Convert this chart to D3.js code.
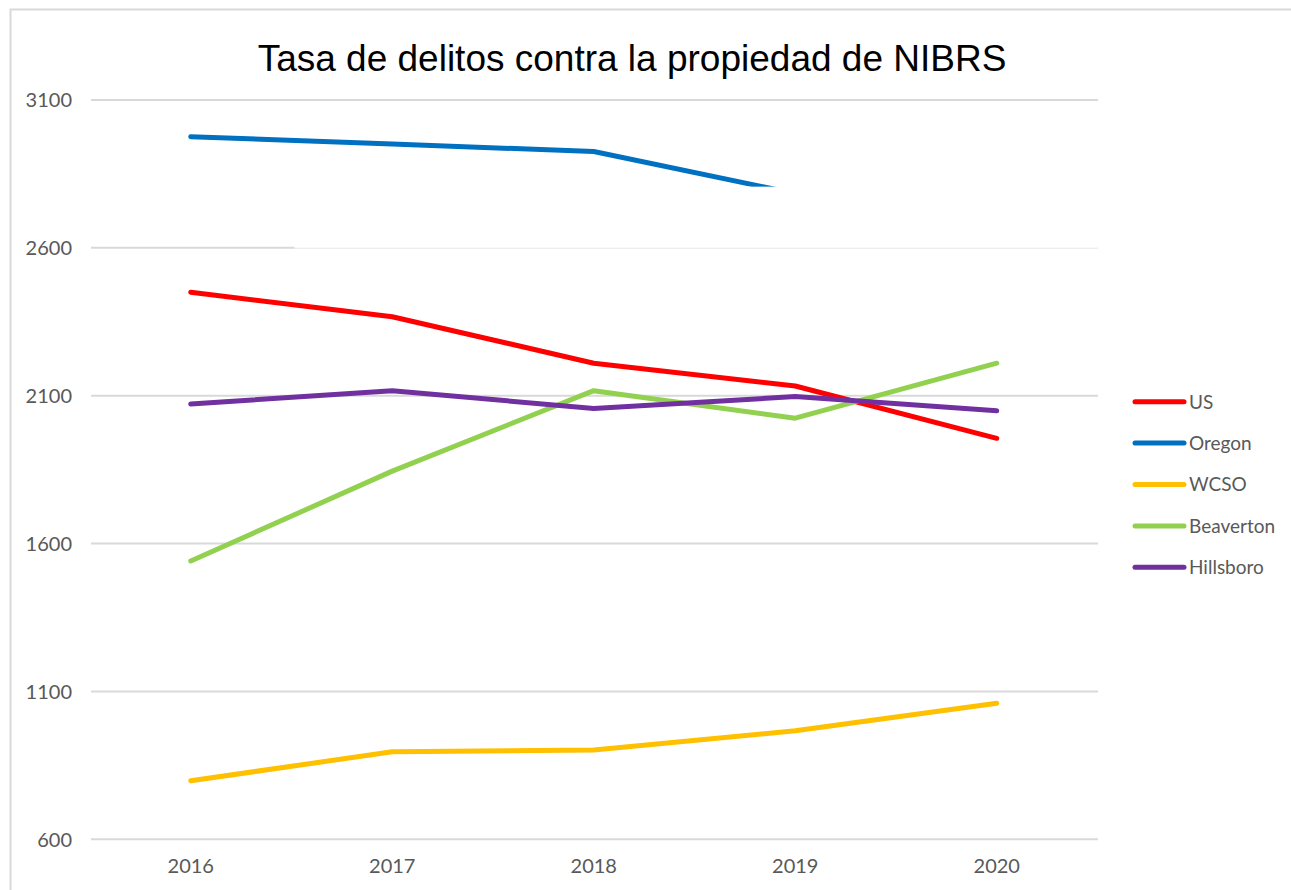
<!DOCTYPE html>
<html>
<head>
<meta charset="utf-8">
<script src="https://cdn.jsdelivr.net/npm/d3@7"></script>
<style>
  body { margin: 0; background: #fff; }
</style>
</head>
<body>
<script>
// chart values
const years = ["2016", "2017", "2018", "2019", "2020"];
const usRate = [2450, 2367, 2210, 2133, 1956];
const oregonRate = [2976, 2951, 2926, 2784, 2730];
const wcsoRate = [798, 896, 902, 967, 1060];
const beavertonRate = [1541, 1845, 2117, 2024, 2210];
const hillsboroRate = [2072, 2117, 2057, 2097, 2049];
const yTicks = [600, 1100, 1600, 2100, 2600, 3100];

const seriesNames = ["US", "Oregon", "WCSO", "Beaverton", "Hillsboro"];
const seriesColors = ["#ff0000", "#0070c0", "#ffc000", "#92d050", "#7030a0"];
const seriesValues = [usRate, oregonRate, wcsoRate, beavertonRate, hillsboroRate];

const series = seriesNames.map((name, i) => ({
  name: name,
  color: seriesColors[i],
  values: seriesValues[i].map((v, j) => ({ year: years[j], value: v }))
}));

const labelFont = "Lato, 'Liberation Sans', sans-serif";
const width = 1291, height = 890;
const svg = d3.select("body").append("svg")
    .attr("width", width)
    .attr("height", height);

// chart frame (runs off the right and bottom edges like the screenshot)
svg.append("rect")
    .attr("x", 10.5).attr("y", 9.5)
    .attr("width", width).attr("height", height)
    .attr("fill", "none")
    .attr("stroke", "#d9d9d9")
    .attr("stroke-width", 2);

const x = d3.scaleBand()
    .domain(years)
    .range([90, 1097.5]);
const xc = d => x(d) + x.bandwidth() / 2;

const y = d3.scaleLinear()
    .domain([600, 3100])
    .range([839.3, 100]);

// gridlines
svg.append("g")
    .selectAll("line")
    .data(yTicks)
    .enter().append("line")
    .attr("x1", 91).attr("x2", 1098)
    .attr("y1", d => y(d)).attr("y2", d => y(d))
    .attr("stroke", "#d9d9d9")
    .attr("stroke-width", 2);

// y labels
svg.append("g")
    .selectAll("text")
    .data(yTicks)
    .enter().append("text")
    .attr("x", 72)
    .attr("y", d => y(d))
    .attr("dy", "0.36em")
    .attr("text-anchor", "end")
    .attr("fill", "#595959")
    .style("font-family", labelFont)
    .style("font-size", "20px")
    .text(d => d);

// x labels
svg.append("g")
    .selectAll("text")
    .data(years)
    .enter().append("text")
    .attr("x", d => xc(d))
    .attr("y", 866)
    .attr("dy", "0.36em")
    .attr("text-anchor", "middle")
    .attr("fill", "#595959")
    .style("font-family", labelFont)
    .style("font-size", "20px")
    .text(d => d);

const line = d3.line()
    .x(d => xc(d.year))
    .y(d => y(d.value));

svg.append("g")
    .selectAll("path")
    .data(series)
    .enter().append("path")
    .attr("d", d => line(d.values))
    .attr("fill", "none")
    .attr("stroke", d => d.color)
    .attr("stroke-width", 5)
    .attr("stroke-linecap", "round")
    .attr("stroke-linejoin", "round");

// white patch over part of the plot, as in the screenshot
svg.append("rect")
    .attr("x", x("2017") + 3)
    .attr("y", y(2807))
    .attr("width", 1100 - x("2017"))
    .attr("height", y(2600) - y(2807))
    .attr("fill", "#fff");
svg.append("line")
    .attr("x1", x("2017") + 3).attr("x2", 1098)
    .attr("y1", y(2600) + 0.5).attr("y2", y(2600) + 0.5)
    .attr("stroke", "#efefef")
    .attr("stroke-width", 1);

// title
svg.append("text")
    .attr("x", 632)
    .attr("y", 71)
    .attr("text-anchor", "middle")
    .attr("fill", "#000")
    .style("font-family", "'Liberation Sans', Arial, sans-serif")
    .style("font-size", "37px")
    .text("Tasa de delitos contra la propiedad de NIBRS");

// legend
const legend = svg.append("g")
    .selectAll("g")
    .data(series)
    .enter().append("g")
    .attr("transform", (d, i) => `translate(1134,${401.7 + i * 41.4})`);

legend.append("line")
    .attr("x1", 1).attr("x2", 50)
    .attr("stroke", d => d.color)
    .attr("stroke-width", 5)
    .attr("stroke-linecap", "round");

legend.append("text")
    .attr("x", 55)
    .attr("dy", "0.36em")
    .attr("fill", "#595959")
    .style("font-family", labelFont)
    .style("font-size", "19px")
    .text(d => d.name);
</script>
</body>
</html>
